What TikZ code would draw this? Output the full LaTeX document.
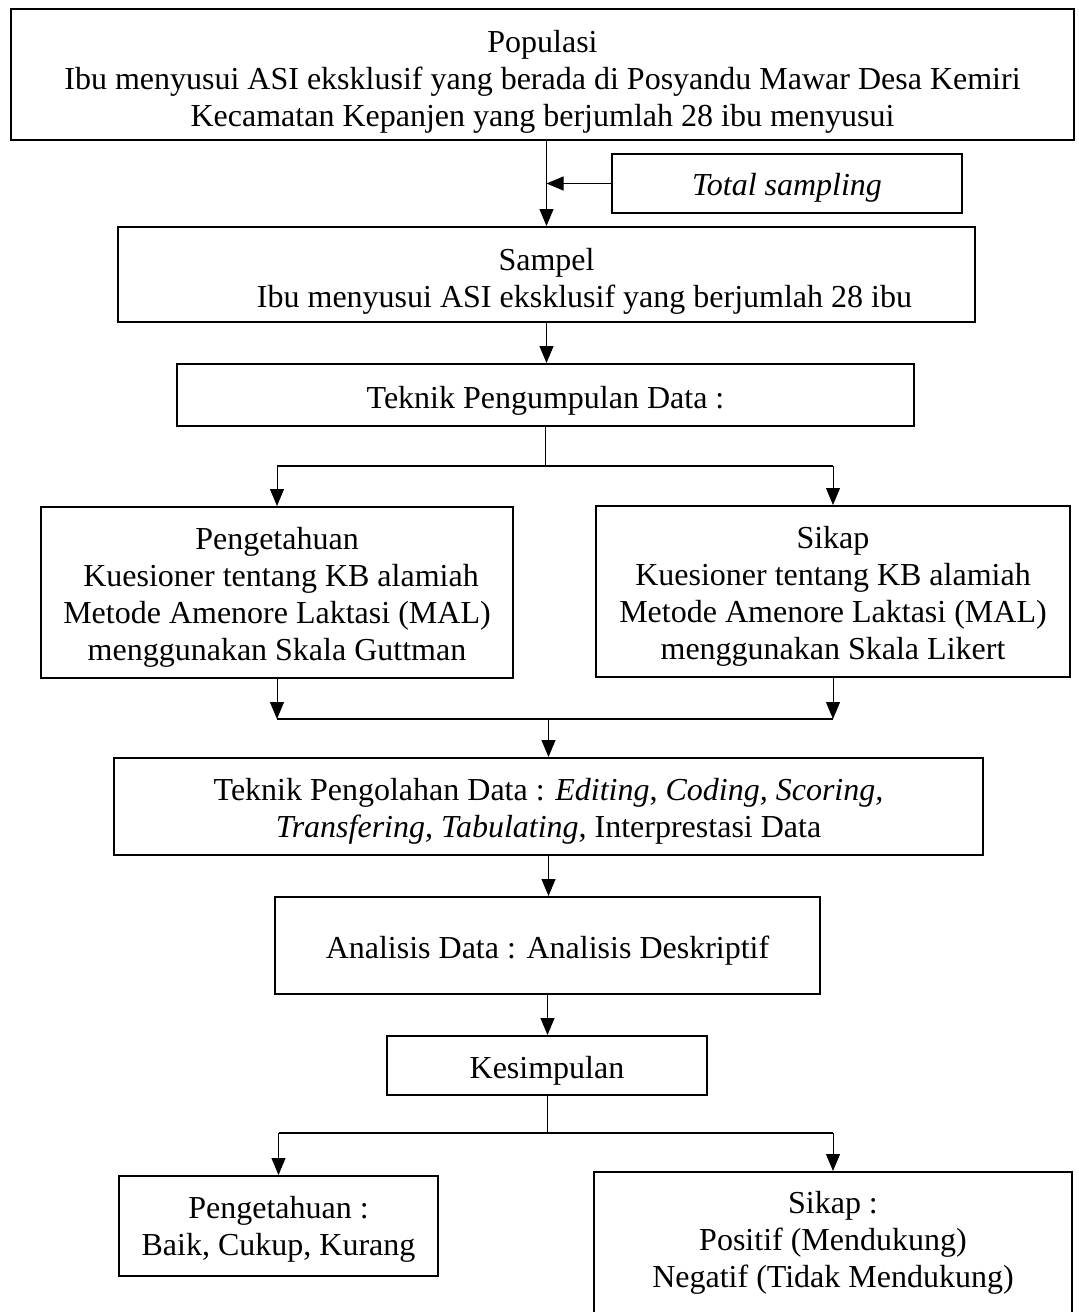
\documentclass[tikz,border=0pt]{standalone}
\usepackage{fontspec}
\setmainfont{Liberation Serif}
\usetikzlibrary{arrows.meta}
\tikzset{
  box/.style={draw, line width=2pt, inner sep=0pt},
  txt/.style={inner sep=0pt, align=center, font=\fontsize{32}{37}\selectfont},
  conn/.style={line width=1pt, -{Triangle[length=17pt,width=14pt]}},
  bar/.style={line width=2.5pt},
  link/.style={line width=1pt}
}
\begin{document}
\begin{tikzpicture}[x=1pt,y=-1pt]
\useasboundingbox (0,0) rectangle (1079,1312);
\clip (0,0) rectangle (1079,1312);
% boxes
\node[box, minimum width=1063pt, minimum height=131pt] (pop) at (542.5,74.5) {};
\node[box, minimum width=350pt, minimum height=59pt] (ts) at (787,183.5) {};
\node[box, minimum width=857pt, minimum height=95pt] (samp) at (546.5,274.5) {};
\node[box, minimum width=737pt, minimum height=62pt] (tpd) at (545.5,395) {};
\node[box, minimum width=472pt, minimum height=171pt] (peng) at (277,592.5) {};
\node[box, minimum width=474pt, minimum height=171pt] (sik) at (833,591.5) {};
\node[box, minimum width=869pt, minimum height=97pt] (olah) at (548.5,806.5) {};
\node[box, minimum width=545pt, minimum height=97pt] (anal) at (547.5,945.5) {};
\node[box, minimum width=320pt, minimum height=59pt] (kes) at (547,1065.5) {};
\node[box, minimum width=319pt, minimum height=100pt] (p2) at (278.5,1226) {};
\node[box, minimum width=478pt, minimum height=158pt] (s2) at (833,1251) {};
% texts
\node[txt] (popt) at (542.5,81.5)
  {Populasi\\Ibu menyusui ASI eksklusif yang berada di Posyandu Mawar Desa Kemiri\\Kecamatan Kepanjen yang berjumlah 28 ibu menyusui};
\node[txt] (tst) at (787,187.5) {\textit{Total sampling}};
\node[txt] (sampt) at (546.5,281.5)
  {Sampel\\\hspace*{76pt}Ibu menyusui ASI eksklusif yang berjumlah 28 ibu};
\node[txt] (tpdt) at (545.5,401) {Teknik Pengumpulan Data :};
\node[txt] (pengt) at (277,597.5)
  {Pengetahuan\\\hspace*{8pt}Kuesioner tentang KB alamiah\\Metode Amenore Laktasi (MAL)\\menggunakan Skala Guttman};
\node[txt] (sikt) at (833,596.5)
  {Sikap\\Kuesioner tentang KB alamiah\\Metode Amenore Laktasi (MAL)\\menggunakan Skala Likert};
\node[txt] (olaht) at (548.5,811.5)
  {Teknik Pengolahan Data : \textit{Editing}, \textit{Coding, Scoring,}\\\textit{Transfering, Tabulating,} Interprestasi Data};
\node[txt] (analt) at (547.5,950.5) {Analisis Data : Analisis Deskriptif};
\node[txt] (kest) at (547,1070.5) {Kesimpulan};
\node[txt] (p2t) at (278.5,1229.5) {Pengetahuan :\\Baik, Cukup, Kurang};
\node[txt] (s2t) at (833,1243) {Sikap :\\Positif (Mendukung)\\Negatif (Tidak Mendukung)};

\coordinate (bra) at (0,466);
\coordinate (mer) at (0,719);
\coordinate (brb) at (0,1133);

\draw[conn] (pop.south -| samp.north) -- (samp.north);
\draw[conn] (ts.west) -- (ts.west -| samp.north);
\draw[conn] (samp.south) -- (samp.south |- tpd.north);

\draw[link] (tpd.south) -- (tpd.south |- bra);
\draw[bar] (peng.north |- bra) -- (sik.north |- bra);
\draw[conn] (peng.north |- bra) -- (peng.north);
\draw[conn] (sik.north |- bra) -- (sik.north);

\draw[conn] (peng.south) -- (peng.south |- mer);
\draw[conn] (sik.south) -- (sik.south |- mer);
\draw[bar] (peng.south |- mer) -- (sik.south |- mer);
\draw[conn] (olah.north |- mer) -- (olah.north);

\draw[conn] (olah.south) -- (olah.south |- anal.north);
\draw[conn] (anal.south) -- (anal.south |- kes.north);

\draw[link] (kes.south) -- (kes.south |- brb);
\draw[bar] (p2.north |- brb) -- (s2.north |- brb);
\draw[conn] (p2.north |- brb) -- (p2.north);
\draw[conn] (s2.north |- brb) -- (s2.north);
\end{tikzpicture}
\end{document}
